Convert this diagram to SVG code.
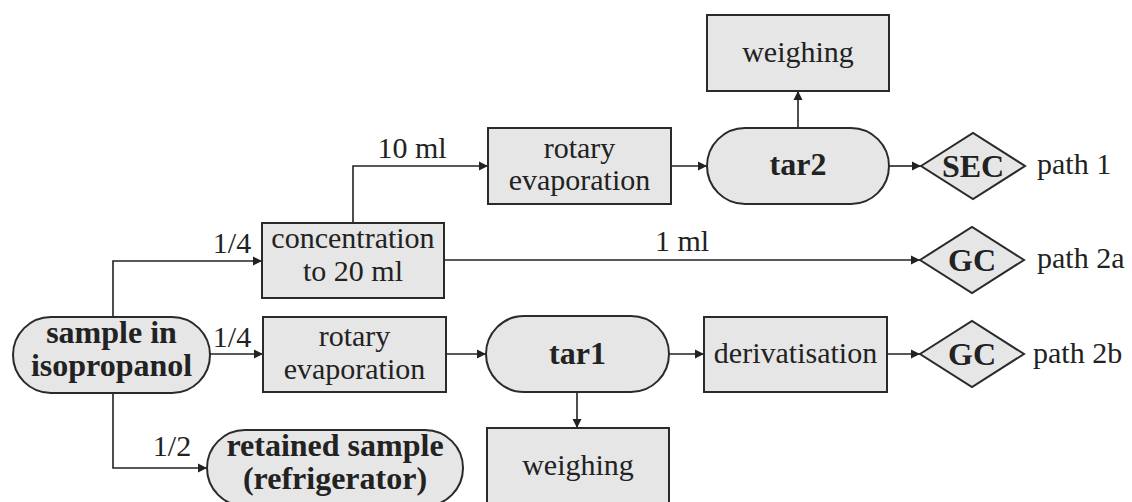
<svg xmlns="http://www.w3.org/2000/svg" width="1132" height="502" viewBox="0 0 1132 502">
<style>
.shape{fill:#e6e6e6;stroke:#2a2a2a;stroke-width:2}
.t{font-family:"Liberation Serif","Times New Roman",serif;font-size:30px;fill:#222;text-anchor:middle}
.b{font-family:"Liberation Serif","Times New Roman",serif;font-size:32px;font-weight:bold;fill:#222;text-anchor:middle}
.l{font-family:"Liberation Serif","Times New Roman",serif;font-size:30px;fill:#222}
.c{fill:none;stroke:#222;stroke-width:1.6}
</style>
<defs>
<marker id="ah" markerUnits="userSpaceOnUse" markerWidth="10" markerHeight="10" refX="9" refY="5" orient="auto">
<path d="M0,0.5 L9,5 L0,9.5 z" fill="#222"/>
</marker>
</defs>
<rect width="1132" height="502" fill="#fff"/>
<g id="connectors">
<path class="c" d="M113,317 V261 H262" marker-end="url(#ah)"/>
<path class="c" d="M210,354 H263" marker-end="url(#ah)"/>
<path class="c" d="M113,393 V468 H207" marker-end="url(#ah)"/>
<path class="c" d="M353,223 V166 H488" marker-end="url(#ah)"/>
<path class="c" d="M444,260 H920" marker-end="url(#ah)"/>
<path class="c" d="M671,166 H707" marker-end="url(#ah)"/>
<path class="c" d="M798,128 V91" marker-end="url(#ah)"/>
<path class="c" d="M889,166 H921" marker-end="url(#ah)"/>
<path class="c" d="M446,354 H486" marker-end="url(#ah)"/>
<path class="c" d="M669,354 H704" marker-end="url(#ah)"/>
<path class="c" d="M577,392 V428" marker-end="url(#ah)"/>
<path class="c" d="M887,354 H920" marker-end="url(#ah)"/>
<text class="t" x="232" y="253">1/4</text>
<text class="t" x="232" y="347">1/4</text>
<text class="t" x="172" y="456">1/2</text>
<text class="t" x="412" y="158">10 ml</text>
<text class="t" x="682" y="251">1 ml</text>
</g>
<g id="sample">
<rect class="shape" x="13" y="317" width="197" height="76" rx="38" ry="38"/>
<text class="b" x="111.5" y="343">sample in</text>
<text class="b" x="111.5" y="376">isopropanol</text>
</g>
<g id="concentration">
<rect class="shape" x="262" y="223" width="182" height="75"/>
<text class="t" x="353" y="248">concentration</text>
<text class="t" x="353" y="281">to 20 ml</text>
</g>
<g id="rotary1">
<rect class="shape" x="488" y="128" width="183" height="76"/>
<text class="t" x="579.5" y="158">rotary</text>
<text class="t" x="579.5" y="190">evaporation</text>
</g>
<g id="tar2">
<rect class="shape" x="707" y="128" width="182" height="76" rx="38" ry="38"/>
<text class="b" x="798" y="175">tar2</text>
</g>
<g id="weighing2">
<rect class="shape" x="707" y="15" width="182" height="76"/>
<text class="t" x="798" y="62">weighing</text>
</g>
<g id="sec">
<polygon class="shape" points="921,166 973,133 1025,166 973,199"/>
<text class="b" x="973" y="177">SEC</text>
<text class="l" x="1037" y="174">path 1</text>
</g>
<g id="gc2a">
<polygon class="shape" points="920,260 972,227 1024,260 972,293"/>
<text class="b" x="972" y="271">GC</text>
<text class="l" x="1037" y="268">path 2a</text>
</g>
<g id="rotary2">
<rect class="shape" x="263" y="317" width="183" height="75"/>
<text class="t" x="354.5" y="346">rotary</text>
<text class="t" x="354.5" y="379">evaporation</text>
</g>
<g id="tar1">
<rect class="shape" x="486" y="316" width="183" height="76" rx="38" ry="38"/>
<text class="b" x="577.5" y="364">tar1</text>
</g>
<g id="derivatisation">
<rect class="shape" x="704" y="317" width="183" height="75"/>
<text class="t" x="795.5" y="363">derivatisation</text>
</g>
<g id="gc2b">
<polygon class="shape" points="920,354 972,321 1024,354 972,387"/>
<text class="b" x="972" y="365">GC</text>
<text class="l" x="1033" y="363">path 2b</text>
</g>
<g id="weighing1">
<rect class="shape" x="487" y="428" width="182" height="78"/>
<text class="t" x="578" y="475">weighing</text>
</g>
<g id="retained">
<rect class="shape" x="207" y="430" width="256" height="76" rx="38" ry="38"/>
<text class="b" x="335" y="456">retained sample</text>
<text class="b" x="335" y="489">(refrigerator)</text>
</g>
</svg>
